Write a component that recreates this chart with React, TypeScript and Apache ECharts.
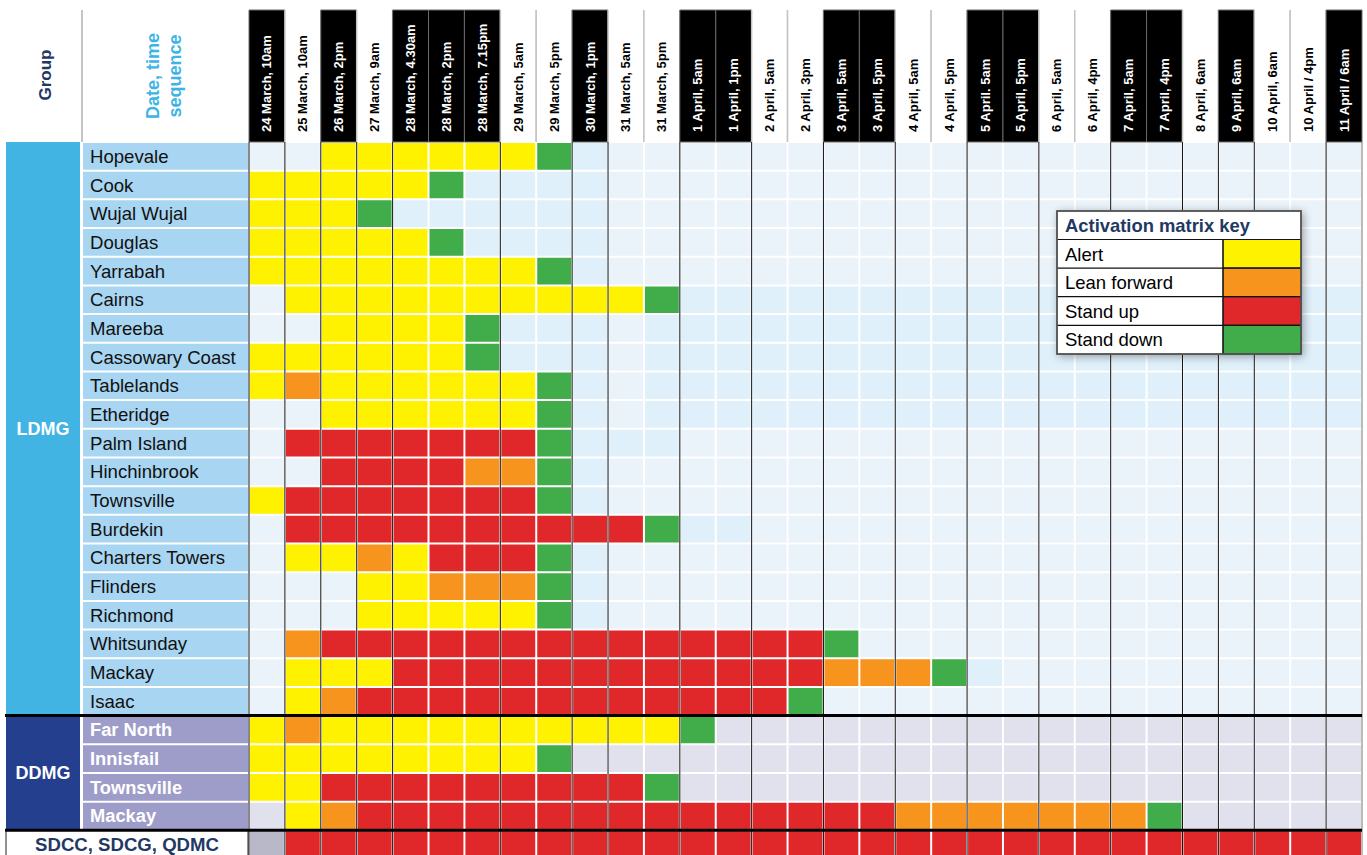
import React, { useEffect, useRef } from 'react';
import * as echarts from 'echarts';

// ---------- DATA ----------
const timeLabels = [
  '24 March, 10am', '25 March, 10am', '26 March, 2pm', '27 March, 9am', '28 March, 4.30am',
  '28 March, 2pm', '28 March, 7.15pm', '29 March, 5am', '29 March, 5pm', '30 March, 1pm',
  '31 March, 5am', '31 March, 5pm', '1 April, 5am', '1 April, 1pm', '2 April, 5am',
  '2 April, 3pm', '3 April, 5am', '3 April, 5pm', '4 April, 5am', '4 April, 5pm',
  '5 April. 5am', '5 April, 5pm', '6 April, 5am', '6 April, 4pm', '7 April, 5am',
  '7 April, 4pm', '8 April, 6am', '9 April, 6am', '10 April, 6am', '10 April / 4pm',
  '11 April / 6am',
];
// header shading: 1 = black header (alternate days)
const headerDark = [1, 0, 1, 0, 1, 1, 1, 0, 0, 1, 0, 0, 1, 1, 0, 0, 1, 1, 0, 0, 1, 1, 0, 0, 1, 1, 0, 1, 0, 0, 1];

const groupNames = ['LDMG', 'DDMG'];
const ldmgNames = [
  'Hopevale', 'Cook', 'Wujal Wujal', 'Douglas', 'Yarrabah', 'Cairns', 'Mareeba', 'Cassowary Coast',
  'Tablelands', 'Etheridge', 'Palm Island', 'Hinchinbrook', 'Townsville', 'Burdekin',
  'Charters Towers', 'Flinders', 'Richmond', 'Whitsunday', 'Mackay', 'Isaac',
];
const ddmgNames = ['Far North', 'Innisfail', 'Townsville', 'Mackay'];
const stateLabel = 'SDCC, SDCG, QDMC';

const levelNames = ['Alert', 'Lean forward', 'Stand up', 'Stand down'];
const levelColors = ['#fff200', '#f7941d', '#e0282a', '#40ad4a'];

// codes: 0 empty, 1 Alert, 2 Lean forward, 3 Stand up, 4 Stand down,
//        5 empty (light cyan), 6 empty (district), 7 not activated
const ldmgStatus = [
  [0,0,1,1,1,1,1,1,4,5,0,0, 0,0,0,0,0,0,0,0,0,0, 0,0,0,0,0,0,0,0,0],
  [1,1,1,1,1,4,5,5,5,5,0,0, 0,0,0,0,0,0,0,0,0,0, 0,0,0,0,0,0,0,0,0],
  [1,1,1,4,5,5,5,5,5,5,0,0, 0,0,0,0,0,0,0,0,0,0, 0,0,0,0,0,0,0,0,0],
  [1,1,1,1,1,4,5,5,5,5,0,0, 0,0,0,0,0,0,0,0,0,0, 0,0,0,0,0,0,0,0,0],
  [1,1,1,1,1,1,1,1,4,5,0,0, 0,0,0,0,0,0,0,0,0,0, 0,0,0,0,0,0,0,0,0],
  [0,1,1,1,1,1,1,1,1,1,1,4, 5,5,5,5,5,5,5,5,5,5, 5,5,5,5,5,5,5,5,5],
  [0,0,1,1,1,1,4,5,5,5,0,5, 5,5,5,5,5,5,5,5,5,5, 5,5,5,5,5,5,5,5,5],
  [1,1,1,1,1,1,4,5,5,5,0,5, 5,5,5,5,5,5,5,5,5,5, 5,5,5,5,5,5,5,5,5],
  [1,2,1,1,1,1,1,1,4,5,0,5, 5,5,5,5,5,5,5,5,5,5, 5,5,5,5,5,5,5,5,5],
  [0,0,1,1,1,1,1,1,4,5,0,5, 5,5,5,5,5,5,5,5,5,5, 5,5,5,5,5,5,5,5,5],
  [0,3,3,3,3,3,3,3,4,5,5,5, 0,0,0,0,0,0,0,0,0,0, 0,0,0,0,0,0,0,0,0],
  [0,0,3,3,3,3,2,2,4,5,0,0, 0,0,0,0,0,0,0,0,0,0, 0,0,0,0,0,0,0,0,0],
  [1,3,3,3,3,3,3,3,4,5,0,0, 0,0,0,0,0,0,0,0,0,0, 0,0,0,0,0,0,0,0,0],
  [0,3,3,3,3,3,3,3,3,3,3,4, 5,5,0,0,0,0,0,0,0,0, 0,0,0,0,0,0,0,0,0],
  [0,1,1,2,1,3,3,3,4,5,0,0, 0,0,0,0,0,0,0,0,0,0, 0,0,0,0,0,0,0,0,0],
  [0,0,0,1,1,2,2,2,4,5,0,0, 0,0,0,0,0,0,0,0,0,0, 0,0,0,0,0,0,0,0,0],
  [0,0,0,1,1,1,1,1,4,5,0,0, 0,0,0,0,0,0,0,0,0,0, 0,0,0,0,0,0,0,0,0],
  [0,2,3,3,3,3,3,3,3,3,3,3, 3,3,3,3,4,0,0,0,0,0, 0,0,0,0,0,0,0,0,0],
  [0,1,1,1,3,3,3,3,3,3,3,3, 3,3,3,3,2,2,2,4,5,0, 0,0,0,0,0,0,0,0,0],
  [0,1,2,3,3,3,3,3,3,3,3,3, 3,3,3,4,0,0,0,0,0,0, 0,0,0,0,0,0,0,0,0],
];
const ddmgStatus = [
  [1,2,1,1,1,1,1,1,1,1,1,1, 4,6,6,6,6,6,6,6,6,6, 6,6,6,6,6,6,6,6,6],
  [1,1,1,1,1,1,1,1,4,6,6,6, 6,6,6,6,6,6,6,6,6,6, 6,6,6,6,6,6,6,6,6],
  [1,1,3,3,3,3,3,3,3,3,3,4, 6,6,6,6,6,6,6,6,6,6, 6,6,6,6,6,6,6,6,6],
  [6,1,2,3,3,3,3,3,3,3,3,3, 3,3,3,3,3,3,2,2,2,2, 2,2,2,4,6,6,6,6,6],
];
const stateStatus = [7,3,3,3,3,3,3,3,3,3,3,3, 3,3,3,3,3,3,3,3,3,3, 3,3,3,3,3,3,3,3,3];

// ---------- STYLE ----------
const FONT = 'Arial, "Liberation Sans", sans-serif';
const NAVY = '#1f3864';
const cellColor: Record<number, string> = {
  0: '#eaf2fa',
  1: levelColors[0],
  2: levelColors[1],
  3: levelColors[2],
  4: levelColors[3],
  5: '#dff0fb',
  6: '#e1e1ee',
  7: '#b9b8c9',
};

const rowNames = [...ldmgNames, ...ddmgNames, stateLabel];
const rowIds = rowNames.map((_, i) => String(i));
const statusRows = [...ldmgStatus, ...ddmgStatus, stateStatus];
const groupSizes = [ldmgNames.length, ddmgNames.length];

const cellData: number[][] = [];
statusRows.forEach((row, r) => row.forEach((v, c) => cellData.push([c, r, v])));

const dayOf = (s: string) => parseInt(s, 10);
const boundaryData: number[][] = [];
timeLabels.forEach((lab, c) => {
  if (c === 0 || dayOf(lab) !== dayOf(timeLabels[c - 1])) boundaryData.push([c, 0, 0]);
});
boundaryData.push([timeLabels.length - 1, 0, 1]);

const groupData: number[][] = [];
{
  let start = 0;
  groupSizes.forEach((n, g) => {
    groupData.push([0, start, g, start + n - 1]);
    start += n;
  });
}
const separatorData = groupSizes.map((_, g) => [0, groupSizes.slice(0, g + 1).reduce((a, b) => a + b, 0)]);

const nRows = rowNames.length;
const ROW_H = 28.68;
const GRID_TOP = 142;
const GRID_H = ROW_H * nRows; // last row runs off the page

function buildOption(): any {
  const Z = 100;
  const legendChildren: any[] = [
    {
      type: 'rect',
      z: Z,
      shape: { x: 0, y: 0, width: 244, height: 143 },
      style: {
        fill: '#fff',
        stroke: '#555',
        lineWidth: 1.5,
        shadowBlur: 8,
        shadowColor: 'rgba(0,0,0,0.35)',
        shadowOffsetX: 2,
        shadowOffsetY: 2,
      },
    },
    {
      type: 'text',
      z: Z + 2,
      x: 8,
      y: 14.5,
      style: { text: 'Activation matrix key', fill: NAVY, font: `bold 18.4px ${FONT}`, verticalAlign: 'middle' },
    },
  ];
  levelNames.forEach((name, i) => {
    const top = 28.5 + i * 28.6;
    legendChildren.push(
      { type: 'rect', z: Z + 1, shape: { x: 166, y: top, width: 78, height: 28.6 }, style: { fill: levelColors[i], stroke: '#222', lineWidth: 1 } },
      { type: 'line', z: Z + 2, shape: { x1: 0, y1: top, x2: 244, y2: top }, style: { stroke: '#111', lineWidth: 1.2 } },
      { type: 'text', z: Z + 2, x: 8, y: top + 14.6, style: { text: name, fill: '#000', font: `18.5px ${FONT}`, verticalAlign: 'middle' } },
    );
  });
  legendChildren.push(
    { type: 'line', z: Z + 2, shape: { x1: 166, y1: 28.5, x2: 166, y2: 143 }, style: { stroke: '#111', lineWidth: 1.2 } },
    { type: 'rect', z: Z + 3, shape: { x: 0, y: 0, width: 244, height: 143 }, style: { fill: 'none', stroke: '#555', lineWidth: 1.5 } },
  );

  return {
    animation: false,
    backgroundColor: '#ffffff',
    grid: [
      { left: 249, top: GRID_TOP, width: 1113, height: GRID_H, outerBoundsMode: 'none' },
      { left: 6, top: GRID_TOP, width: 243, height: GRID_H, outerBoundsMode: 'none' },
      { left: 249, top: 10, width: 1113, height: 132, outerBoundsMode: 'none' },
    ],
    xAxis: [
      { type: 'category', data: timeLabels, gridIndex: 0, show: false },
      { type: 'value', min: 0, max: 1, gridIndex: 1, show: false },
      { type: 'category', data: timeLabels, gridIndex: 2, show: false },
    ],
    yAxis: [
      { type: 'category', data: rowIds, inverse: true, gridIndex: 0, show: false },
      { type: 'category', data: rowIds, inverse: true, gridIndex: 1, show: false },
      { type: 'category', data: ['h'], gridIndex: 2, show: false },
    ],
    series: [
      // activation cells
      {
        type: 'custom',
        xAxisIndex: 0,
        yAxisIndex: 0,
        data: cellData,
        renderItem: (params: any, api: any) => {
          const c = api.value(0);
          const r = api.value(1);
          const v = api.value(2);
          const p = api.coord([c, r]);
          const s = api.size([1, 1]);
          return {
            type: 'rect',
            shape: { x: p[0] - s[0] / 2 + 1, y: p[1] - s[1] / 2 + 1, width: s[0] - 2, height: s[1] - 2 },
            style: { fill: cellColor[v] },
          };
        },
      },
      // day boundary lines
      {
        type: 'custom',
        xAxisIndex: 0,
        yAxisIndex: 0,
        data: boundaryData,
        z: 3,
        renderItem: (params: any, api: any) => {
          const c = api.value(0);
          const isEnd = api.value(2);
          const p = api.coord([c, 0]);
          const s = api.size([1, 1]);
          const cs = params.coordSys;
          const x = isEnd ? p[0] + s[0] / 2 : p[0] - s[0] / 2;
          return {
            type: 'line',
            shape: { x1: x, y1: cs.y, x2: x, y2: cs.y + cs.height },
            style: { stroke: isEnd ? '#777' : '#111', lineWidth: 1 },
          };
        },
      },
      // header cells with labels
      {
        type: 'custom',
        xAxisIndex: 2,
        yAxisIndex: 2,
        data: timeLabels.map((_, c) => [c, 0, headerDark[c]]),
        renderItem: (params: any, api: any) => {
          const c = api.value(0);
          const dark = api.value(2) === 1;
          const p = api.coord([c, 0]);
          const w = api.size([1, 1])[0];
          const cs = params.coordSys;
          const x0 = p[0] - w / 2;
          const children: any[] = [
            {
              type: 'rect',
              shape: { x: x0, y: cs.y, width: w, height: cs.height },
              style: dark ? { fill: '#000', stroke: '#6a6a6a', lineWidth: 1 } : { fill: '#fff' },
            },
          ];
          if (!dark) {
            children.push(
              { type: 'line', shape: { x1: x0, y1: cs.y, x2: x0, y2: cs.y + cs.height }, style: { stroke: '#c4c4c4', lineWidth: 1.5 } },
              { type: 'line', shape: { x1: x0 + w, y1: cs.y, x2: x0 + w, y2: cs.y + cs.height }, style: { stroke: '#c4c4c4', lineWidth: 1.5 } },
            );
          }
          children.push({
            type: 'text',
            x: p[0],
            y: cs.y + cs.height - 10,
            rotation: Math.PI / 2,
            style: {
              text: timeLabels[c],
              fill: dark ? '#fff' : '#000',
              font: `bold 13px ${FONT}`,
              align: 'left',
              verticalAlign: 'middle',
            },
          });
          return { type: 'group', children };
        },
      },
      // group blocks (LDMG / DDMG)
      {
        type: 'custom',
        xAxisIndex: 1,
        yAxisIndex: 1,
        data: groupData,
        renderItem: (params: any, api: any) => {
          const start = api.value(1);
          const g = api.value(2);
          const end = api.value(3);
          const h = api.size([0, 1])[1];
          const yTop = api.coord([0, start])[1] - h / 2;
          const yBot = api.coord([0, end])[1] + h / 2;
          const cs = params.coordSys;
          const fill = g === 0 ? '#42b4e3' : '#243f8e';
          return {
            type: 'group',
            children: [
              { type: 'rect', shape: { x: cs.x, y: yTop, width: 74, height: yBot - yTop }, style: { fill } },
              {
                type: 'text',
                x: cs.x + 37,
                y: (yTop + yBot) / 2,
                style: { text: groupNames[g], fill: '#fff', font: `bold 18px ${FONT}`, align: 'center', verticalAlign: 'middle' },
              },
            ],
          };
        },
      },
      // row name cells
      {
        type: 'custom',
        xAxisIndex: 1,
        yAxisIndex: 1,
        data: rowNames.map((_, r) => [0, r]),
        renderItem: (params: any, api: any) => {
          const r = api.value(1);
          const h = api.size([0, 1])[1];
          const cy = api.coord([0, r])[1];
          const cs = params.coordSys;
          const name = rowNames[r];
          if (r >= ldmgNames.length + ddmgNames.length) {
            return {
              type: 'group',
              children: [
                {
                  type: 'rect',
                  shape: { x: cs.x, y: cy - h / 2, width: cs.width - 1, height: h },
                  style: { fill: '#fff', stroke: '#222', lineWidth: 1 },
                },
                {
                  type: 'text',
                  x: cs.x + 121,
                  y: cy,
                  style: { text: name, fill: NAVY, font: `bold 18.6px ${FONT}`, align: 'center', verticalAlign: 'middle' },
                },
              ],
            };
          }
          const isL = r < ldmgNames.length;
          return {
            type: 'group',
            children: [
              {
                type: 'rect',
                shape: { x: cs.x + 77, y: cy - h / 2 + 1, width: cs.width - 78, height: h - 2 },
                style: { fill: isL ? '#a8d5f1' : '#9e9dc9' },
              },
              {
                type: 'text',
                x: cs.x + 84,
                y: cy,
                style: {
                  text: name,
                  fill: isL ? '#111' : '#fff',
                  font: `${isL ? 'normal 18.6px' : 'bold 18.3px'} ${FONT}`,
                  align: 'left',
                  verticalAlign: 'middle',
                },
              },
            ],
          };
        },
      },
      // thick group separators
      {
        type: 'custom',
        xAxisIndex: 0,
        yAxisIndex: 0,
        data: separatorData,
        z: 5,
        renderItem: (params: any, api: any) => {
          const r = api.value(1);
          const h = api.size([1, 1])[1];
          const y = api.coord([0, r])[1] - h / 2;
          const cs = params.coordSys;
          return {
            type: 'line',
            shape: { x1: 5, y1: y, x2: cs.x + cs.width, y2: y },
            style: { stroke: '#000', lineWidth: 3 },
          };
        },
      },
    ],
    graphic: [
      { type: 'line', z: Z, shape: { x1: 82, y1: 10, x2: 82, y2: 142 }, style: { stroke: '#c4c4c4', lineWidth: 2 } },
      {
        type: 'text',
        z: Z,
        x: 45,
        y: 75,
        rotation: Math.PI / 2,
        style: { text: 'Group', fill: NAVY, font: `bold 17px ${FONT}`, align: 'center', verticalAlign: 'middle' },
      },
      {
        type: 'text',
        z: Z,
        x: 164,
        y: 76,
        rotation: Math.PI / 2,
        style: {
          text: 'Date, time\nsequence',
          fill: '#3db4e5',
          font: `bold 18px ${FONT}`,
          lineHeight: 22,
          align: 'center',
          verticalAlign: 'middle',
        },
      },
      {
        type: 'group',
        x: 1057,
        y: 211,
        z: Z,
        children: legendChildren,
      },
    ],
  };
}

export default function App() {
  const ref = useRef<HTMLDivElement>(null);
  useEffect(() => {
    document.body.style.margin = '0';
    const chart = echarts.init(ref.current as HTMLDivElement, null, { renderer: 'svg' });
    chart.setOption(buildOption());
    return () => chart.dispose();
  }, []);
  return <div ref={ref} style={{ width: 1367, height: 855 }} />;
}
